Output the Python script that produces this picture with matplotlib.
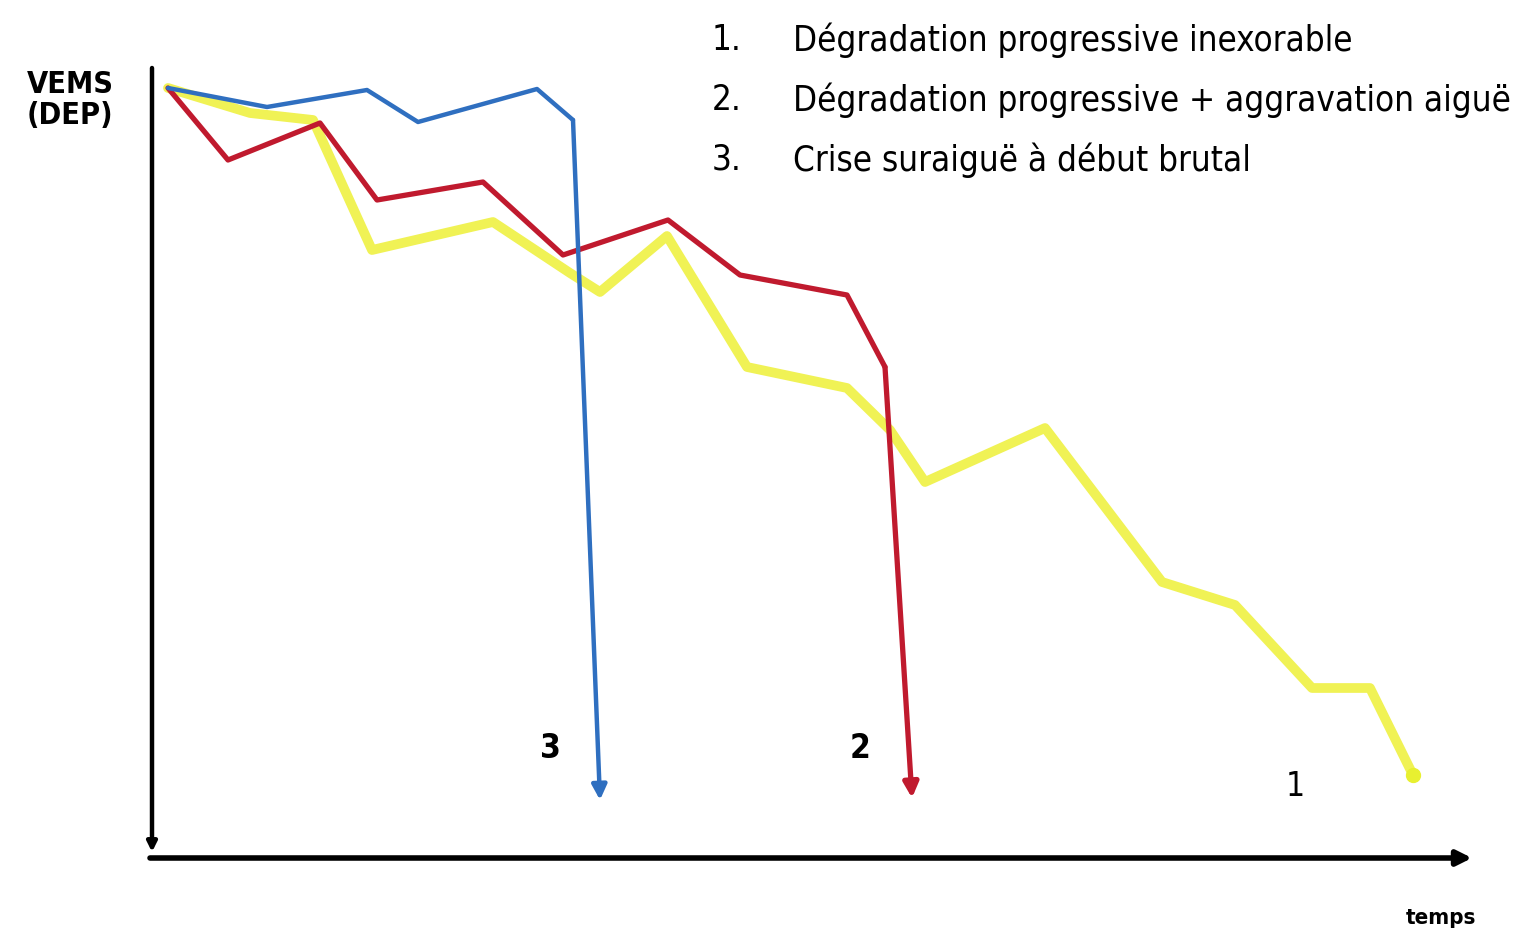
"""Evolution du VEMS (DEP) dans le temps : trois profils d'exacerbation."""

import matplotlib
matplotlib.use('Agg')
import matplotlib.pyplot as plt

# time (arbitrary units) and VEMS (arbitrary units)
t_yellow = [1.6, 9.8, 16.1, 22.0, 34.1, 41.8, 44.8, 51.5, 59.5, 69.5, 73.8,
            77.3, 89.3, 101.0, 108.3, 116.0, 121.8, 126.1]
v_yellow = [76.9, 74.4, 73.7, 60.7, 63.5, 58.4, 56.5, 62.1, 49.0, 46.9, 42.7,
            37.5, 42.9, 27.5, 25.2, 16.9, 16.9, 8.2]

t_red = [1.6, 7.6, 16.8, 22.5, 33.1, 41.1, 51.6, 58.8, 69.5, 73.3, 76.0]
v_red = [76.9, 69.7, 73.4, 65.7, 67.5, 60.2, 63.7, 58.2, 56.2, 49.0, 5.9]

t_blue = [1.6, 11.5, 21.5, 26.6, 38.5, 42.1, 44.8]
v_blue = [76.9, 75.0, 76.7, 73.5, 76.8, 73.7, 5.7]

legend_items = ['Dégradation progressive inexorable',
                'Dégradation progressive + aggravation aiguë',
                'Crise suraiguë à début brutal']

YELLOW = '#f0f255'
RED = '#c01a2e'
BLUE = '#2f6fc0'
FONT = dict(family='DejaVu Sans', fontstretch='condensed')

fig = plt.figure(figsize=(15.26, 9.40), dpi=100, facecolor='white')
ax = fig.add_axes([0, 0, 1, 1])
ax.set_xlim(-15.2, 137.4)
ax.set_ylim(-8.3, 85.7)
ax.axis('off')

# axes drawn as arrows
ax.annotate('', xy=(0, 0.5), xytext=(0, 78.9),
            arrowprops=dict(arrowstyle='-|>', color='black', lw=3.2,
                            mutation_scale=14, shrinkA=0, shrinkB=0))
ax.annotate('', xy=(132.0, -0.1), xytext=(-0.2, -0.1),
            arrowprops=dict(arrowstyle='-|>', color='black', lw=4,
                            mutation_scale=22, shrinkA=0, shrinkB=0))


def draw_series(t, v, color, lw, arrow=True, zorder=2):
    n = len(t) - 1 if arrow else len(t)
    ax.plot(t[:n], v[:n], color=color, lw=lw, solid_joinstyle='round',
            solid_capstyle='round', zorder=zorder)
    if arrow:
        ax.annotate('', xy=(t[-1], v[-1]), xytext=(t[-2], v[-2]),
                    arrowprops=dict(arrowstyle='-|>', color=color, lw=lw,
                                    mutation_scale=22, shrinkA=0, shrinkB=0),
                    zorder=zorder)


draw_series(t_yellow, v_yellow, YELLOW, 7, arrow=False, zorder=2)
ax.plot(t_yellow[-1], v_yellow[-1], 'o', color='#e8f030', ms=10, zorder=2)
draw_series(t_red, v_red, RED, 3.8, zorder=3)
draw_series(t_blue, v_blue, BLUE, 3.2, zorder=4)

# curve numbers
ax.text(39.8, 10.9, '3', ha='center', va='center', fontsize=24,
        fontweight='bold', **FONT)
ax.text(70.8, 10.9, '2', ha='center', va='center', fontsize=24,
        fontweight='bold', **FONT)
ax.text(114.3, 7.0, '1', ha='center', va='center', fontsize=24, **FONT)

# axis labels
fig.text(70 / 1526, 1 - 100 / 940, 'VEMS\n(DEP)', ha='center', va='center',
         fontsize=22, fontweight='bold', linespacing=1.1, **FONT)
fig.text(1441 / 1526, 1 - 918 / 940, 'temps', ha='center', va='center',
         fontsize=16, fontweight='bold', **FONT)

# numbered legend at the top
for i, label in enumerate(legend_items):
    y = 1 - (40 + 60 * i) / 940
    fig.text(712 / 1526, y, f'{i + 1}.', ha='left', va='center',
             fontsize=25, **FONT)
    fig.text(793 / 1526, y, label, ha='left', va='center',
             fontsize=25, **FONT)

fig.savefig('out.png', dpi=100, facecolor='white')
